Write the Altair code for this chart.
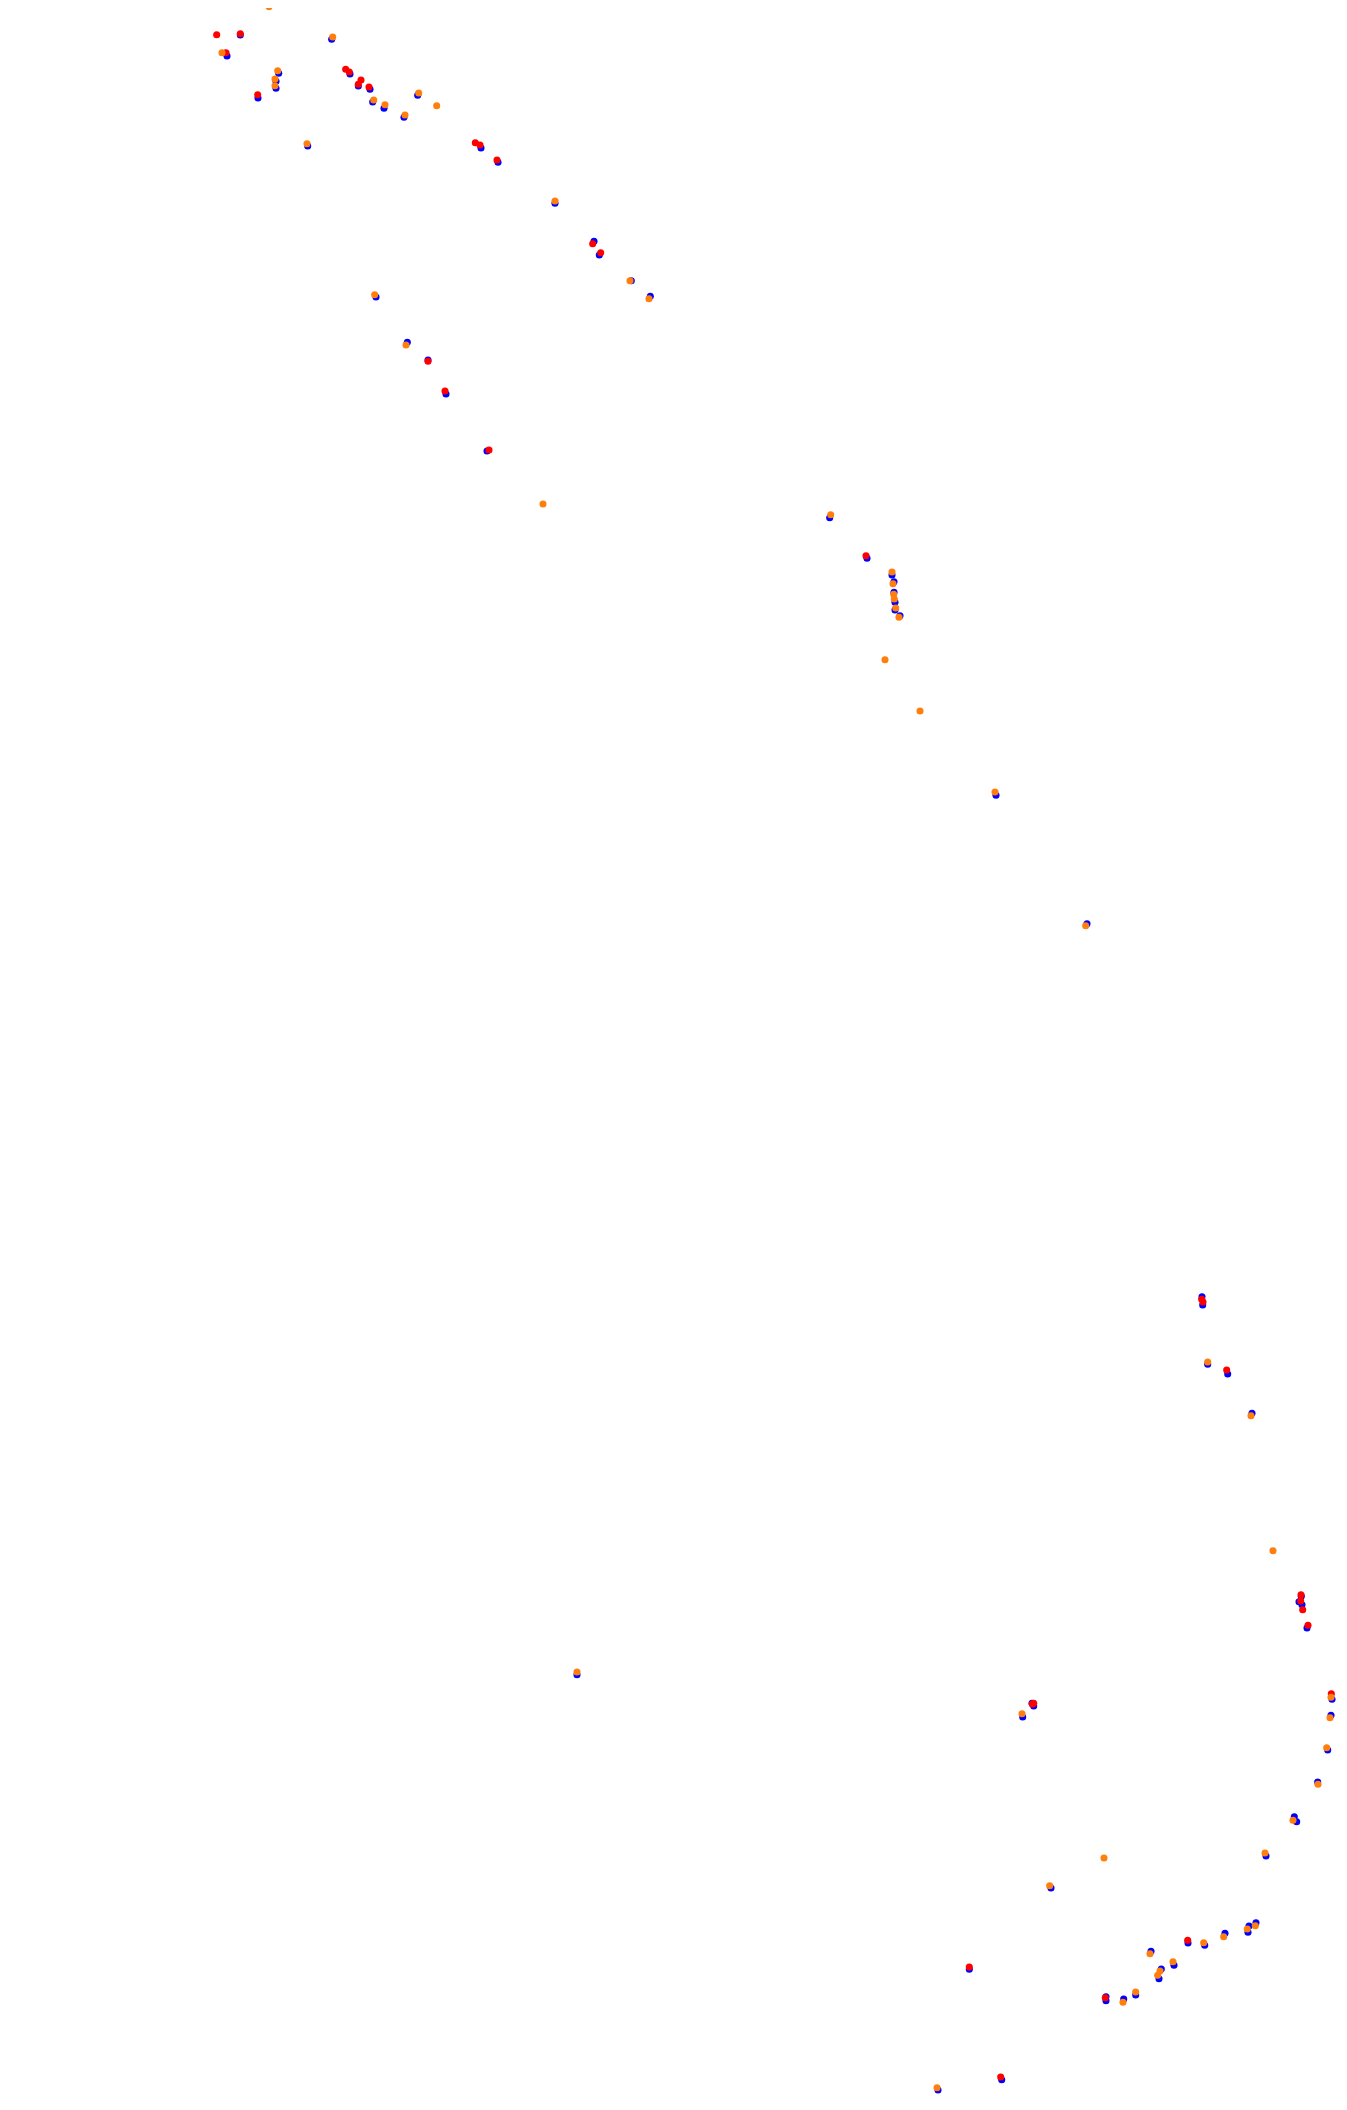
import altair as alt
import pandas as pd

# Point positions (page pixel units, y downward)
blue_x = [270.3, 240.3, 227, 331.7, 278.7, 276, 276, 258, 350, 358.3, 370, 372.7, 384, 404, 417.7, 307.7, 481, 498,
          555, 594, 599.3, 631.3, 650.3,
          376, 407.3, 428, 446, 487,
          829.7, 867, 892, 894, 894, 895, 895, 900,
          996, 1087,
          1202, 1202.7, 1207.7, 1227.7, 1252,
          1301.3, 1299, 1302, 1307,
          1332, 1331, 1327.7, 1317.7, 1294.3, 1296.7, 1266,
          577,
          1033.7, 1032, 1022.7, 1051,
          969.3, 1001.7, 938, 1106, 1106, 1123.7, 1135.7, 1151, 1159, 1161.3, 1174, 1188, 1204.7, 1225, 1248, 1249, 1256]
blue_y = [4.3, 35, 56, 39.3, 73.3, 81.3, 88.3, 98, 74, 86, 89.3, 102, 108.3, 117.3, 95.3, 146, 148, 162.3,
          203.3, 241.3, 255, 280.7, 296.3,
          297, 342.3, 360, 394, 451,
          517.7, 558.3, 575, 581.7, 592.3, 602.3, 610, 615.7,
          795.3, 923.7,
          1296.7, 1305, 1364.3, 1374, 1413.3,
          1596.3, 1601.7, 1604.7, 1628,
          1699.3, 1715.3, 1750, 1782, 1816.7, 1821.7, 1856,
          1674.7,
          1706, 1703.3, 1717, 1888,
          1969.3, 2079.7, 2090, 1996.7, 2000.7, 1999, 1995, 1951.3, 1978.7, 1969, 1965.3, 1943, 1945.3, 1933.3, 1932.3, 1926, 1922.7]

red_x = [216.7, 240.3, 226, 257.7, 345.7, 349.3, 361, 358.3, 369, 475.3, 480, 497,
         592.7, 600.7,
         428, 445, 489,
         866,
         1201.7, 1203, 1226.7,
         1301, 1300.7, 1302.7, 1308,
         1331.3,
         1032.3, 1033.7,
         969.3, 1000.7, 1105.3, 1187.7]
red_y = [34.7, 33.7, 52.7, 94.7, 69.3, 72, 80, 84.3, 87, 142.7, 145, 160,
         243.7, 252.7,
         361.3, 391, 450,
         555.7,
         1299.3, 1302, 1370,
         1594.7, 1601, 1609.7, 1625.3,
         1693.7,
         1704, 1703.3,
         1967, 2077, 1997.7, 1940.3]

orange_x = [269, 222, 332.7, 277.7, 275, 275, 373.7, 385, 405, 418.7, 436.7, 307,
            555, 630, 649,
            374.7, 406, 543,
            830.7, 892, 893, 893.7, 894.3, 895.7, 899, 885,
            920, 995, 1085.7,
            1207.7, 1251,
            1273,
            1331, 1330, 1326.7, 1318, 1293, 1265,
            577, 1022, 1104, 1049.7,
            937, 1123, 1135.7, 1150, 1157.7, 1160, 1173, 1203.7, 1223.7, 1247.3, 1255.3]
orange_y = [6.7, 52.7, 37, 70.7, 79, 85.7, 100, 104.7, 115, 93, 105.7, 143.7,
            201, 280.7, 298.7,
            294.7, 345, 504,
            514.7, 572, 583.7, 594.3, 599, 608, 617.3, 659.7,
            711, 792, 925.7,
            1362, 1415.7,
            1550.7,
            1697.3, 1717.7, 1747.7, 1784.3, 1820.3, 1853,
            1672, 1713.7, 1858, 1885.7,
            2087.7, 2002.3, 1992, 1953.7, 1975.3, 1971, 1961.7, 1942.7, 1936.7, 1929, 1925.7]

series = ["blue", "red", "orange"]
colors = ["#0000ff", "#ff0000", "#ff7f0e"]

rows = []
for name, xs, ys in [("blue", blue_x, blue_y), ("red", red_x, red_y), ("orange", orange_x, orange_y)]:
    for x, y in zip(xs, ys):
        rows.append({"x": x, "y": y, "series": name})
df = pd.DataFrame(rows)

W = 1331
H = 2088

chart = alt.Chart(df).mark_circle(size=50, opacity=1).encode(
    x=alt.X("x:Q", scale=alt.Scale(domain=[8, 8 + W], nice=False, zero=False), axis=None),
    y=alt.Y("y:Q", scale=alt.Scale(domain=[8, 8 + H], nice=False, zero=False, reverse=True), axis=None),
    color=alt.Color("series:N", scale=alt.Scale(domain=series, range=colors), legend=None),
).properties(
    width=W, height=H, padding=0, autosize=alt.AutoSizeParams(type="none")
).configure_view(stroke=None)

chart.save("out.html", embed_options={"renderer": "svg", "actions": False})
